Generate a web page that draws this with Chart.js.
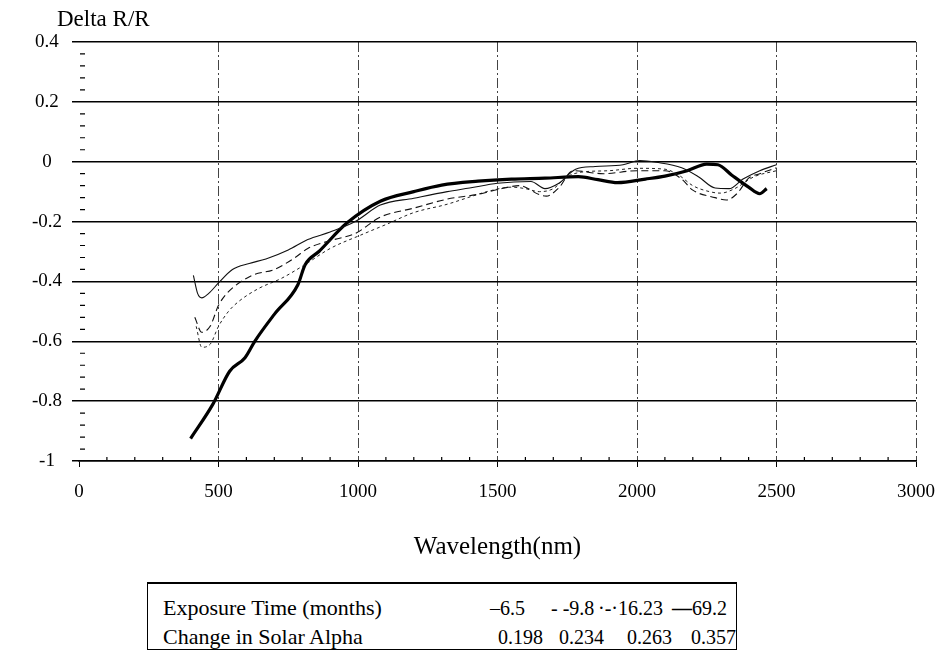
<!DOCTYPE html>
<html>
<head>
<meta charset="utf-8">
<script src="https://cdn.jsdelivr.net/npm/chart.js@4.4.0/dist/chart.umd.min.js"></script>
<style>
  body { margin: 0; background: #fff; font-family: "Liberation Serif", "DejaVu Serif", serif; color: #000; }
  #wrap { position: relative; width: 949px; height: 665px; }
  #box { position: absolute; left: 0; top: 0; width: 949px; height: 570px; }
  #ytitle { position: absolute; left: 57px; top: 7px; font-size: 23px; line-height: 1; }
  #legend { position: absolute; left: 147px; top: 582px; width: 588px; height: 65px; border: 1px solid #000; border-top-width: 2px; }
  #legend span { position: absolute; line-height: 1; white-space: pre; }
</style>
</head>
<body>
<div id="wrap">
  <div id="box"><canvas id="myChart"></canvas></div>
  <div id="ytitle">Delta R/R</div>
  <div id="legend"></div>
</div>
<script>
// wavelength (nm) and Delta R/R for each exposure time
let wl65 = [410, 425, 440, 465, 500, 550, 610, 670, 750, 820, 900, 990, 1080, 1200, 1320, 1400, 1500, 1620, 1670, 1720, 1780, 1850, 1950, 2010, 2070, 2160, 2220, 2280, 2330, 2380, 2440, 2500];
let val65 = [-0.38, -0.44, -0.455, -0.44, -0.405, -0.36, -0.34, -0.325, -0.295, -0.26, -0.235, -0.2, -0.145, -0.122, -0.1, -0.088, -0.072, -0.066, -0.09, -0.072, -0.025, -0.016, -0.01, 0.004, -0.002, -0.02, -0.05, -0.088, -0.09, -0.058, -0.03, -0.01];

let wl98 = [415, 440, 470, 500, 530, 620, 700, 775, 820, 915, 990, 1080, 1200, 1320, 1435, 1500, 1580, 1650, 1675, 1720, 1770, 1880, 2000, 2100, 2160, 2200, 2280, 2320, 2360, 2400, 2440, 2500];
let val98 = [-0.52, -0.57, -0.55, -0.48, -0.44, -0.38, -0.36, -0.32, -0.29, -0.26, -0.24, -0.185, -0.155, -0.125, -0.108, -0.093, -0.08, -0.11, -0.115, -0.087, -0.03, -0.04, -0.03, -0.03, -0.058, -0.095, -0.12, -0.128, -0.105, -0.055, -0.04, -0.02];

let wl1623 = [420, 440, 470, 500, 536, 571, 643, 725, 808, 900, 1010, 1100, 1200, 1320, 1410, 1470, 1550, 1600, 1650, 1700, 1750, 1800, 1900, 2000, 2100, 2150, 2200, 2260, 2300, 2350, 2420, 2500];
let val1623 = [-0.55, -0.62, -0.61, -0.55, -0.5, -0.468, -0.424, -0.39, -0.345, -0.29, -0.245, -0.21, -0.17, -0.142, -0.115, -0.098, -0.085, -0.09, -0.1, -0.09, -0.05, -0.035, -0.03, -0.022, -0.025, -0.045, -0.08, -0.1, -0.105, -0.09, -0.05, -0.03];

let wl692 = [400, 480, 540, 595, 630, 700, 785, 810, 860, 960, 1080, 1200, 1300, 1430, 1550, 1670, 1790, 1860, 1930, 2030, 2100, 2180, 2250, 2290, 2340, 2400, 2440, 2465];
let val692 = [-0.925, -0.81, -0.7, -0.655, -0.6, -0.51, -0.41, -0.345, -0.3, -0.205, -0.132, -0.1, -0.078, -0.065, -0.058, -0.055, -0.05, -0.06, -0.07, -0.058, -0.048, -0.03, -0.008, -0.01, -0.045, -0.085, -0.107, -0.09];

let seriesNames = ['6.5', '9.8', '16.23', '69.2'];
let legendSamples = ['\u2013', '- -', '\u00b7-\u00b7', '\u2014'];
let solarAlpha = ['0.198', '0.234', '0.263', '0.357'];

let xTicks = [0, 500, 1000, 1500, 2000, 2500, 3000];
let yTicks = [0.4, 0.2, 0, -0.2, -0.4, -0.6, -0.8, -1];

function pts(xs, ys) {
    let out = [];
    for (let i = 0; i < xs.length; i++) {
        out.push({ x: xs[i], y: ys[i] });
    }
    return out;
}

// small tick marks on the left axis (every 0.04) and bottom axis (every 100 nm)
const minorTicks = {
    id: 'minorTicks',
    afterDraw(chart) {
        let ctx = chart.ctx;
        let xs = chart.scales.x, ys = chart.scales.y;
        let area = chart.chartArea;
        ctx.save();
        ctx.strokeStyle = '#000';
        ctx.lineWidth = 1.2;
        ctx.beginPath();
        for (let v = -1; v < 0.4; v += 0.04) {
            let r = Math.round(v * 100) / 100;
            if (Math.abs(r * 5 - Math.round(r * 5)) < 1e-6) continue;
            let py = ys.getPixelForValue(r);
            ctx.moveTo(area.left + 1, py);
            ctx.lineTo(area.left + 6, py);
        }
        for (let v = 100; v < 3000; v += 100) {
            if (v % 500 === 0) continue;
            let px = xs.getPixelForValue(v);
            ctx.moveTo(px, area.bottom);
            ctx.lineTo(px, area.bottom - 4);
        }
        ctx.stroke();
        ctx.restore();
    }
};

let ctx = document.getElementById('myChart');
let myChart = new Chart(ctx, {
    type: 'line',
    data: {
        datasets: [{
            label: seriesNames[0],
            data: pts(wl65, val65),
            borderColor: '#111',
            borderWidth: 1.1
        }, {
            label: seriesNames[1],
            data: pts(wl98, val98),
            borderColor: '#111',
            borderWidth: 1.1,
            borderDash: [7, 4]
        }, {
            label: seriesNames[2],
            data: pts(wl1623, val1623),
            borderColor: '#222',
            borderWidth: 1,
            borderDash: [3, 3]
        }, {
            label: seriesNames[3],
            data: pts(wl692, val692),
            borderColor: '#000',
            borderWidth: 3.2
        }]
    },
    options: {
        responsive: true,
        maintainAspectRatio: false,
        animation: false,
        layout: { padding: { left: 0, right: 25, top: 42, bottom: 0 } },
        elements: {
            point: { radius: 0 },
            line: { cubicInterpolationMode: 'monotone', fill: false }
        },
        plugins: {
            legend: { display: false },
            tooltip: { enabled: false }
        },
        scales: {
            x: {
                type: 'linear',
                min: 0,
                max: 3000,
                afterBuildTicks: (s) => { s.ticks = xTicks.map(v => ({ value: v })); },
                afterFit: (s) => { s.height = 109; },
                ticks: {
                    color: '#000',
                    padding: 14,
                    maxRotation: 0,
                    font: { family: 'Liberation Serif', size: 19 },
                    callback: (v) => String(v)
                },
                grid: {
                    color: (c) => (c.tick && c.tick.value === 0) ? 'rgba(0,0,0,0)' : '#444',
                    lineWidth: 1,
                    tickLength: 6,
                    tickColor: '#000',
                    tickBorderDash: []
                },
                border: { display: true, color: '#000', width: 1.5, dash: [10, 3, 2, 3] },
                title: {
                    display: true,
                    text: 'Wavelength(nm)',
                    color: '#000',
                    font: { family: 'Liberation Serif', size: 25 },
                    padding: { top: 0, bottom: 8 }
                }
            },
            y: {
                min: -1,
                max: 0.4,
                afterBuildTicks: (s) => { s.ticks = yTicks.map(v => ({ value: v })); },
                afterFit: (s) => { s.width = 79; },
                ticks: {
                    color: '#000',
                    padding: 10,
                    crossAlign: 'center',
                    font: { family: 'Liberation Serif', size: 19 },
                    callback: (v) => String(Math.round(v * 10) / 10)
                },
                grid: {
                    color: '#000',
                    lineWidth: 1.5,
                    tickLength: 7
                },
                border: { display: false }
            }
        }
    },
    plugins: [minorTicks]
});

// legend table below the chart
let legend = document.getElementById('legend');
function addText(txt, left, top, size, html) {
    let s = document.createElement('span');
    if (html) s.innerHTML = txt; else s.textContent = txt;
    s.style.left = left + 'px';
    s.style.top = top + 'px';
    s.style.fontSize = size + 'px';
    legend.appendChild(s);
}
let colLeft = [342, 403, 450, 524];
let alphaLeft = [350, 411, 479, 543];
addText('Exposure Time (months)', 15, 13, 22);
addText('Change in Solar Alpha', 15, 42, 22);
for (let i = 0; i < seriesNames.length; i++) {
    let sample = i === 3 ? '<b>' + legendSamples[i] + '</b>' : legendSamples[i];
    addText(sample + seriesNames[i], colLeft[i], 14, 20, true);
    addText(solarAlpha[i], alphaLeft[i], 43, 20);
}
</script>
</body>
</html>
